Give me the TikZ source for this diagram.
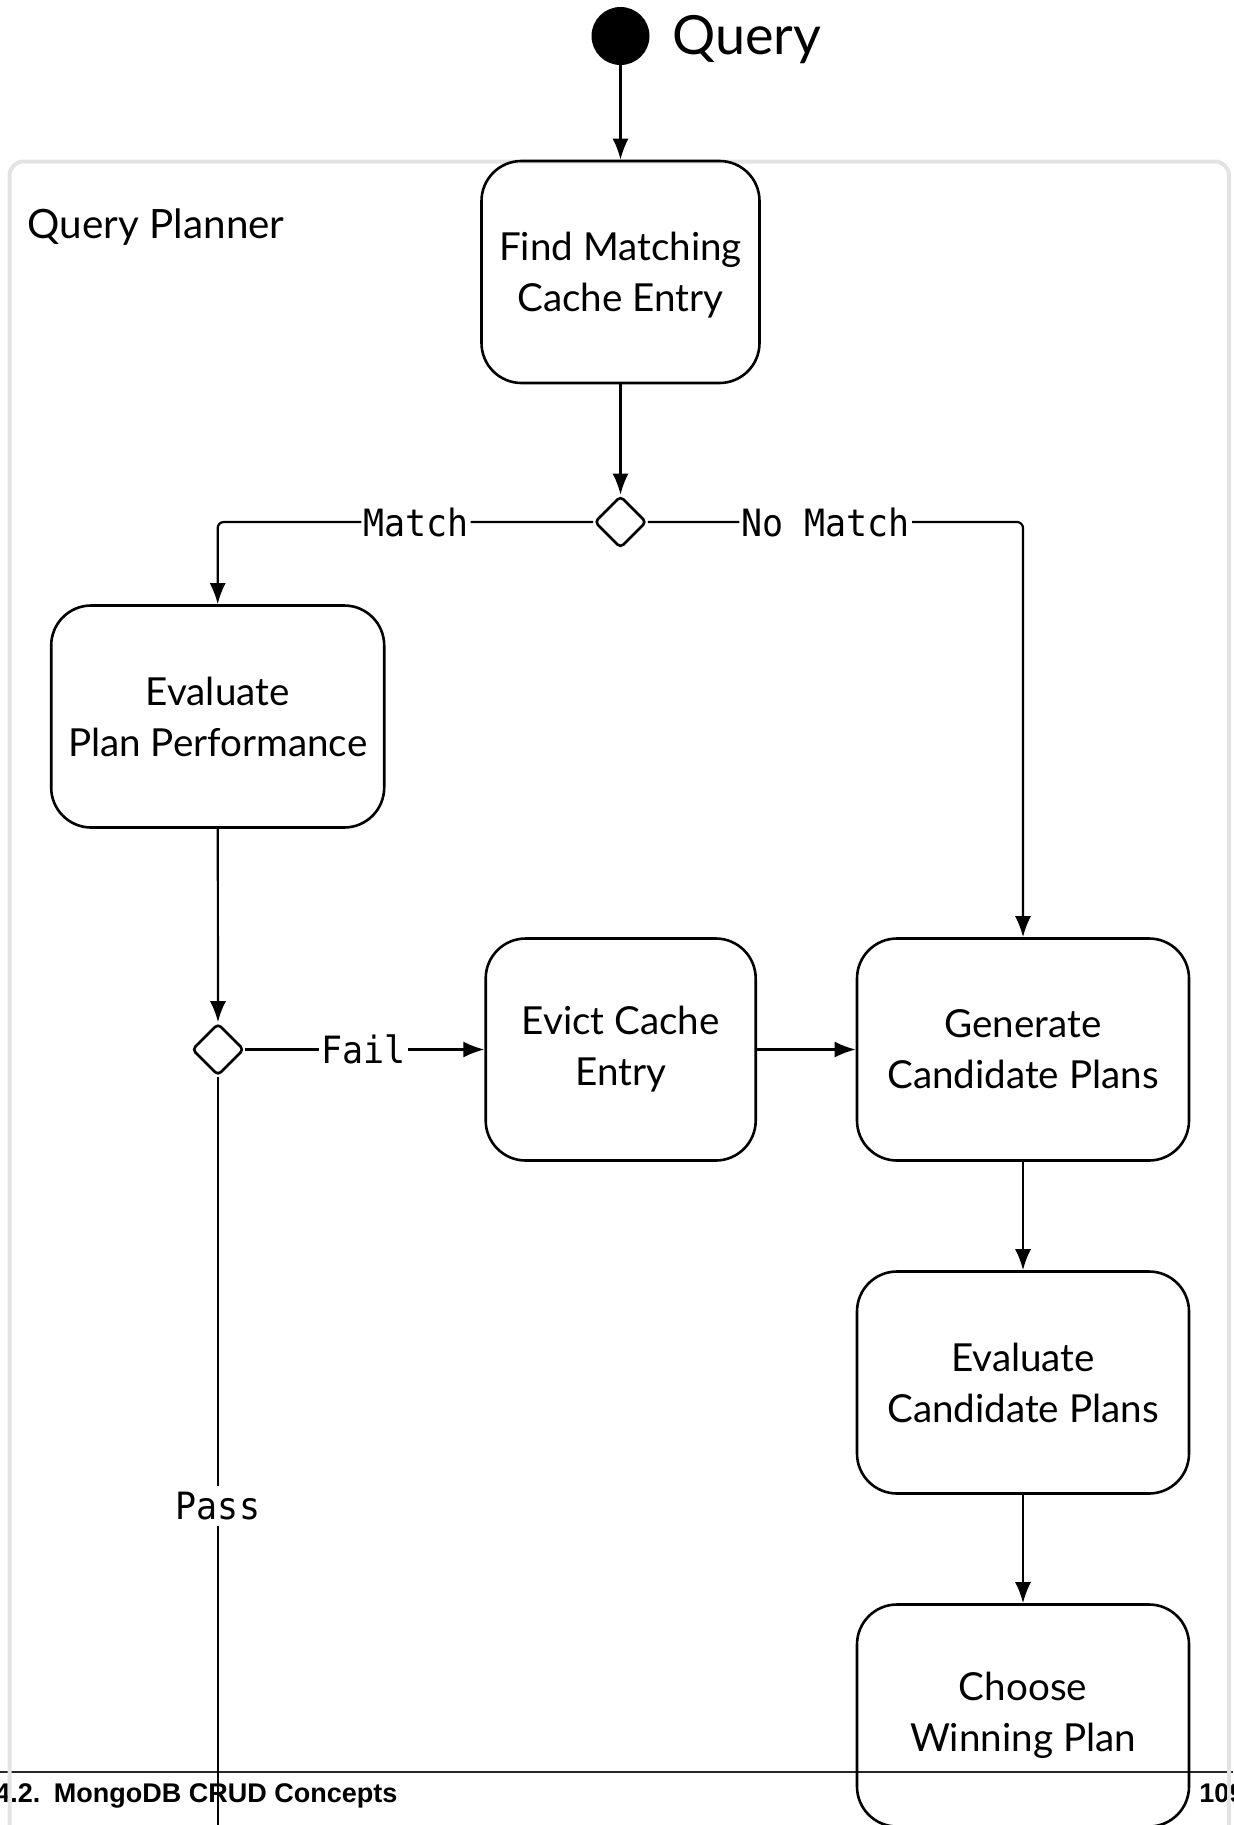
\documentclass[tikz,border=0pt]{standalone}
\usepackage{fontspec}
\setmainfont{Lato}
\newfontfamily\labelfont[FakeStretch=0.93]{DejaVu Sans Mono}
\newfontfamily\footfont{Liberation Sans}
\usetikzlibrary{arrows.meta,shapes.geometric}

\begin{document}
\begin{tikzpicture}[x=0.5pt,y=-0.5pt,
  actbox/.style={draw, line width=1.3pt, rounded corners=20pt,
    minimum width=#1, minimum height=111pt, align=center, inner sep=0pt,
    font=\fontsize{19.3}{25.5}\selectfont},
  actbox/.default=139pt,
  decision/.style={draw, shape=diamond, line width=1.3pt, minimum width=26pt,
    minimum height=26pt, inner sep=0pt, rounded corners=2pt},
  startdot/.style={circle, fill=black, minimum size=29pt, inner sep=0pt},
  arr/.style={draw, line width=1.1pt, -{Latex[length=10.5pt,width=8pt]}},
  plain/.style={draw, line width=1.1pt},
  lbl/.style={fill=white, inner xsep=1pt, inner ysep=3pt,
    font=\labelfont\fontsize{18.8}{20}\selectfont},
  framebox/.style={draw=black!11, line width=2pt, rounded corners=7pt},
  foot/.style={anchor=base west, inner sep=0pt,
    font=\footfont\bfseries\fontsize{13.5}{16}\selectfont}
]
\useasboundingbox (0,0) rectangle (1233,1825);
\clip (0,0) rectangle (1233,1825);

% page footer
\draw[line width=0.8pt, black!85] (0,1772) -- (1233,1772);
\node[foot] (footl) at (-5,1802.5) {4.2.\hspace{0.5em}MongoDB CRUD Concepts};
\node[foot] (footr) at (1199,1802.5) {109};

% swimlane frame
\draw[framebox] (9.5,161.5) rectangle (1229,1900);
\node[anchor=base west, inner sep=0pt, font=\fontsize{20.2}{25}\selectfont]
  (lane) at (27.5,238) {Query Planner};

% start
\node[startdot] (start) at (620.5,36) {};
\node[anchor=base west, inner sep=0pt, font=\fontsize{27}{30}\selectfont]
  (qlabel) at (672,55) {Query};

% activities (text nudged slightly down inside each box)
\node[actbox, text depth=0pt] (find) at (620.5,272) {Find Matching\\Cache Entry};
\node[decision] (d1) at (620.5,522) {};
\node[actbox=166.5pt] (evalplan) at (217.7,716.5) {Evaluate\\Plan Performance};
\node[decision] (d2) at (218,1049.5) {};
\node[actbox=135pt] (evict) at (620.7,1049.5) {Evict Cache\\Entry};
\node[actbox=166pt] (gen) at (1023,1049.5) {Generate\\Candidate Plans};
\node[actbox=166pt] (evalcand) at (1023,1382.5) {Evaluate\\Candidate Plans};
\node[actbox=166pt] (choose) at (1023,1715.5) {Choose\\Winning Plan};
\coordinate (passend) at (218,1840);

% flow
\path[arr] (start) -- (find);
\path[arr] (find) -- (d1);
\path[arr, rounded corners=3pt] (d1.west) -| node[lbl, pos=0.236] {Match} (evalplan.north);
\path[arr, rounded corners=3pt] (d1.east) -| node[lbl, pos=0.237] {No Match} (gen.north);
\path[arr] (evalplan) -- (d2);
\path[arr] (d2.east) -- node[lbl, pos=0.494] {Fail} (evict.west);
\path[arr] (evict) -- (gen);
\path[arr] (gen) -- (evalcand);
\path[arr] (evalcand) -- (choose);
\path[plain] (d2.south) -- node[lbl, pos=0.562] {Pass} (passend);
\end{tikzpicture}
\end{document}
